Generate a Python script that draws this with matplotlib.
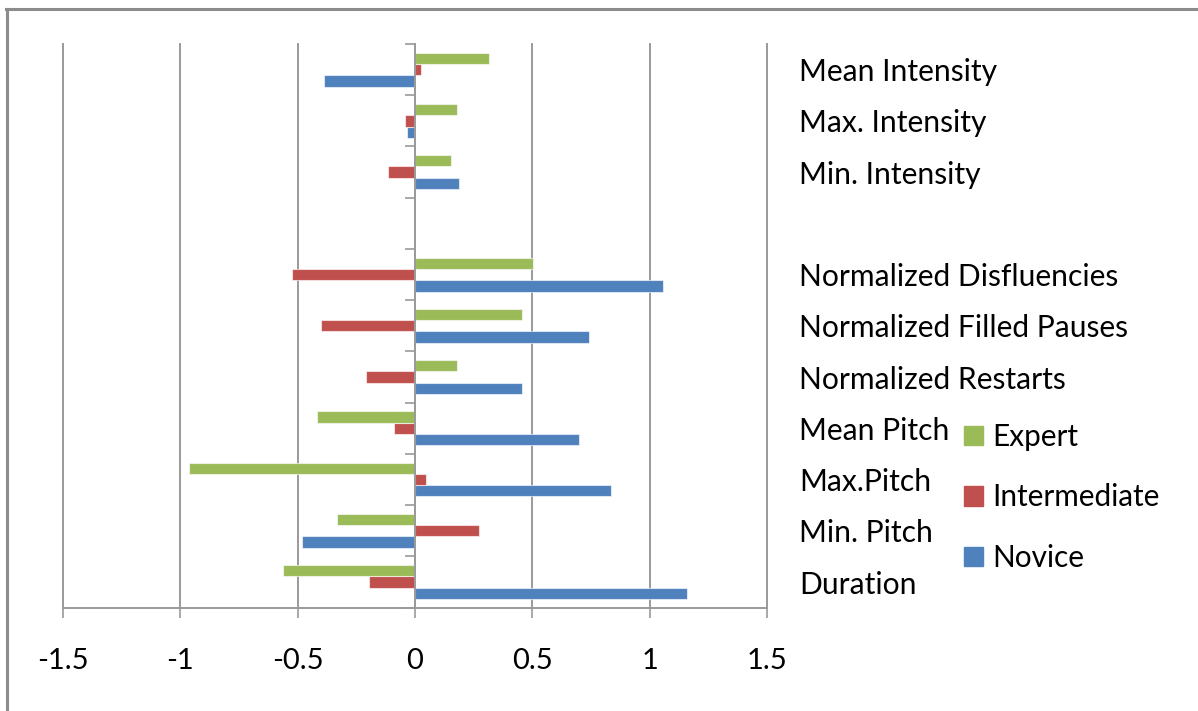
import matplotlib
matplotlib.use("Agg")
import numpy as np
import matplotlib.pyplot as plt
from matplotlib.lines import Line2D
from matplotlib.patches import Patch

# Feature categories, listed bottom to top (blank slot separates the groups)
features = ["Duration", "Min. Pitch", "Max.Pitch", "Mean Pitch",
            "Normalized Restarts", "Normalized Filled Pauses",
            "Normalized Disfluencies", "",
            "Min. Intensity", "Max. Intensity", "Mean Intensity"]

# Correlation-style scores per speaker group (NaN = blank slot)
novice = [1.16, -0.48, 0.835, 0.70, 0.457, 0.741, 1.058, np.nan,
          0.189, -0.035, -0.386]
intermediate = [-0.198, 0.274, 0.045, -0.088, -0.21, -0.401, -0.524, np.nan,
                -0.116, -0.043, 0.026]
expert = [-0.562, -0.332, -0.961, -0.419, 0.18, 0.458, 0.503, np.nan,
          0.153, 0.18, 0.317]

x_ticks = [-1.5, -1, -0.5, 0, 0.5, 1, 1.5]
x_tick_labels = ["-1.5", "-1", "-0.5", "0", "0.5", "1", "1.5"]

BLUE = "#4F81BD"
RED = "#C0504D"
GREEN = "#9BBB59"
GRID = "#9a9a9a"

plt.rcParams["font.family"] = ["Lato", "DejaVu Sans"]
plt.rcParams["font.size"] = 21

fig = plt.figure(figsize=(11.98, 7.11), dpi=100)
ax = fig.add_axes([0.0526, 0.1453, 0.5876, 0.7928])

y = np.arange(len(features))
h = 0.22
bar_kw = dict(height=h, edgecolor=(1, 1, 1, 0.6), linewidth=0.8, zorder=3)
ax.barh(y - h, novice, color=BLUE, label="Novice", **bar_kw)
ax.barh(y, intermediate, color=RED, label="Intermediate", **bar_kw)
ax.barh(y + h, expert, color=GREEN, label="Expert", **bar_kw)

ax.set_xlim(-1.5, 1.5)
ax.set_ylim(-0.5, len(features) - 0.5)

# x axis: vertical gridlines, ticks pointing down
ax.set_xticks(x_ticks)
ax.set_xticklabels(x_tick_labels)
ax.tick_params(axis="x", direction="out", length=7, width=1.2, color=GRID,
               pad=22, labelsize=21)
ax.xaxis.grid(True, color=GRID, linewidth=1.4, zorder=0)
for gl in ax.get_xgridlines():
    gl.set_clip_on(False)

# category axis sits at x = 0, labels go on the far right
ax.spines["left"].set_position(("data", 0))
for side in ("top", "right"):
    ax.spines[side].set_visible(False)
for side in ("left", "bottom"):
    ax.spines[side].set_color(GRID)
    ax.spines[side].set_linewidth(1.4)
ax.spines["left"].set_zorder(4)

ax.set_yticks(y)
ax.set_yticklabels(features)
ax.set_yticks(np.arange(-0.5, len(features), 1.0), minor=True)
ax.tick_params(axis="y", which="major", left=False, right=False,
               labelleft=False, labelright=True, pad=19.5, labelsize=21.6)
ax.tick_params(axis="y", which="minor", direction="out", length=7.5,
               width=1.2, color=GRID, left=True, right=False)

handles = [Patch(color=GREEN), Patch(color=RED), Patch(color=BLUE)]
fig.legend(handles, ["Expert", "Intermediate", "Novice"],
           loc="center left", bbox_to_anchor=(0.7925, 0.3003),
           frameon=False, borderpad=0, handlelength=0.63, handleheight=0.63,
           handletextpad=0.3, labelspacing=1.1, fontsize=21.4)

# outer chart border (only top and left edges fall inside the canvas)
frame_kw = dict(transform=fig.transFigure, color="#8c8c8c", linewidth=2.2)
fig.add_artist(Line2D([0.005, 1.0], [0.988, 0.988], **frame_kw))
fig.add_artist(Line2D([0.0058, 0.0058], [0.0, 0.988], **frame_kw))

fig.savefig("out.png", dpi=100)
